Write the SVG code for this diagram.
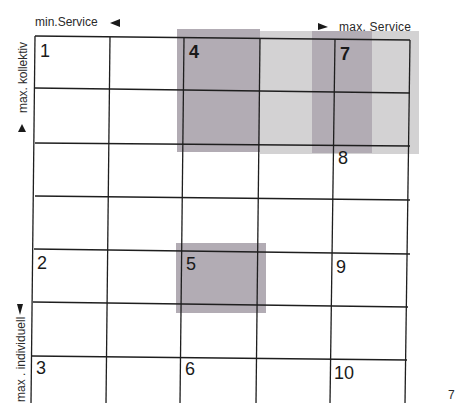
<svg xmlns="http://www.w3.org/2000/svg" width="463" height="403" viewBox="0 0 463 403">
<style>
.bg{fill:#ffffff}
.dark{fill:#b2acb4}
.light{fill:#d3d2d3}
.grid line{stroke:#1e1e1e;stroke-width:1.3}
.lbl{font-family:"Liberation Sans",Arial,sans-serif;font-size:12px;fill:#2a2a2a}
.num{font-family:"Liberation Sans",Arial,sans-serif;font-size:18px;fill:#1a1a1a}
.b{font-weight:bold}
.tri{fill:#1a1a1a}
</style>
<rect class="bg" x="0" y="0" width="463" height="403"/>
<g id="shading">
<rect class="light" x="260" y="31" width="159" height="123"/>
<rect class="dark" x="177" y="29" width="83" height="123"/>
<rect class="dark" x="312" y="31" width="60" height="122"/>
<rect class="dark" x="176" y="243" width="90" height="70"/>
</g>
<g id="connectors" class="grid">
<line x1="35" y1="36" x2="410" y2="40"/>
<line x1="35" y1="88" x2="410" y2="93"/>
<line x1="35" y1="143" x2="410" y2="146"/>
<line x1="35" y1="196" x2="410" y2="200"/>
<line x1="34" y1="249" x2="410" y2="254"/>
<line x1="33" y1="302" x2="408" y2="307"/>
<line x1="32" y1="356" x2="407" y2="360"/>
<line x1="35" y1="36" x2="31" y2="403"/>
<line x1="110" y1="37" x2="106" y2="403"/>
<line x1="184" y1="38" x2="180" y2="403"/>
<line x1="260" y1="39" x2="256" y2="403"/>
<line x1="335" y1="39" x2="330" y2="403"/>
<line x1="410" y1="40" x2="405" y2="403"/>
</g>
<g id="axis-top-left">
<text class="lbl" x="35" y="26">min.Service</text>
<polygon class="tri" points="110,23 120,19 120,27"/>
</g>
<g id="axis-top-right">
<polygon class="tri" points="318,23 328,27 318,30"/>
<text class="lbl" x="339" y="31" textLength="72">max.  Service</text>
</g>
<g id="axis-left-top">
<text class="lbl" transform="translate(27,113) rotate(-90)" textLength="71">max.  kollektiv</text>
<polygon class="tri" points="22,124 26,132 18,132"/>
</g>
<g id="axis-left-bottom">
<text class="lbl" transform="translate(25,402) rotate(-90)">max . individuell</text>
<polygon class="tri" points="17,304 23,304 20,315"/>
</g>
<g id="n1"><text class="num" x="40" y="57">1</text></g>
<g id="n4"><text class="num b" x="189" y="58">4</text></g>
<g id="n7"><text class="num b" x="340" y="60">7</text></g>
<g id="n8"><text class="num" x="338" y="164">8</text></g>
<g id="n2"><text class="num" x="37" y="269">2</text></g>
<g id="n5"><text class="num" x="186" y="270">5</text></g>
<g id="n9"><text class="num" x="336" y="273">9</text></g>
<g id="n3"><text class="num" x="36" y="374">3</text></g>
<g id="n6"><text class="num" x="185" y="375">6</text></g>
<g id="n10"><text class="num" x="334" y="379">10</text></g>
<g id="page"><text class="lbl" x="448" y="399" font-size="8">7</text></g>
</svg>
